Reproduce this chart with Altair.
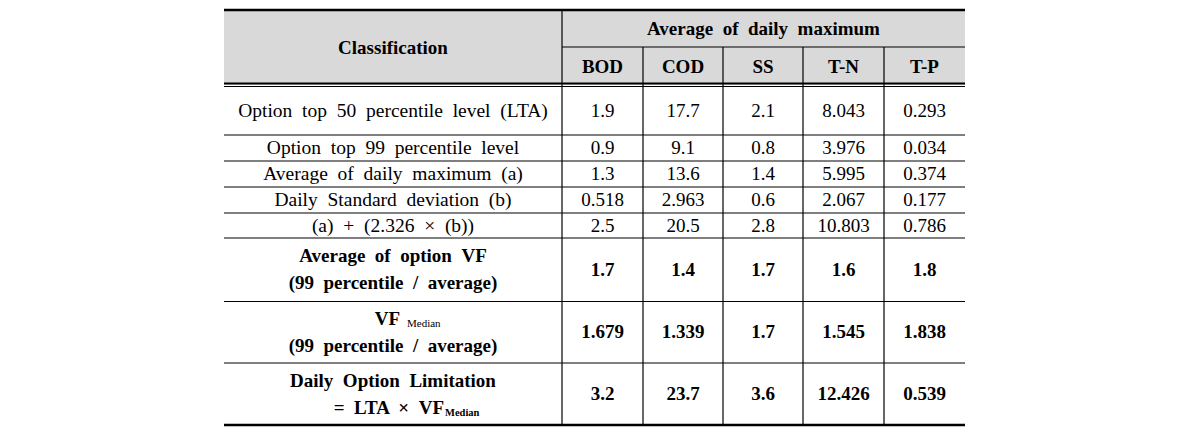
import altair as alt
import pandas as pd

# ---------------- data ----------------
columns = ["BOD", "COD", "SS", "T-N", "T-P"]
group_header = "Average of daily maximum"
corner_header = "Classification"

row_labels = [
    ["Option top 50 percentile level (LTA)"],
    ["Option top 99 percentile level"],
    ["Average of daily maximum (a)"],
    ["Daily Standard deviation (b)"],
    ["(a) + (2.326 × (b))"],
    ["Average of option VF", "(99 percentile / average)"],
    ["VF", "(99 percentile / average)"],
    ["Daily Option Limitation", "= LTA × VF"],
]
row_subscripts = [None, None, None, None, None, None, "Median", "Median"]
row_bold = [False, False, False, False, False, True, True, True]

bod = ["1.9", "0.9", "1.3", "0.518", "2.5", "1.7", "1.679", "3.2"]
cod = ["17.7", "9.1", "13.6", "2.963", "20.5", "1.4", "1.339", "23.7"]
ss = ["2.1", "0.8", "1.4", "0.6", "2.8", "1.7", "1.7", "3.6"]
tn = ["8.043", "3.976", "5.995", "2.067", "10.803", "1.6", "1.545", "12.426"]
tp = ["0.293", "0.034", "0.374", "0.177", "0.786", "1.8", "1.838", "0.539"]
values = [bod, cod, ss, tn, tp]

# ---------------- layout (pixel positions) ----------------
W, H = 1174, 421
col_edges = [224, 562, 643, 723, 803, 884, 965]
head_top, head_mid, head_bot = 9, 46, 84
row_edges = [86, 134, 160, 186, 212, 237, 300.5, 362, 424]
FONT = "Liberation Serif"
FS = 19
FS_LABEL = 19.5
GRAY = "#d9d9d9"


def widen(s):
    # the reference uses wide, justified word spacing
    return s.replace(" ", " \u00a0")


xs = alt.Scale(domain=[8, 8 + W], range=[0, W])
ys = alt.Scale(domain=[8, 8 + H], reverse=True)

# header background
bg = pd.DataFrame([{"x": col_edges[0], "x2": col_edges[-1], "y": head_top, "y2": head_bot}])

# horizontal rules
hl = [
    {"x": col_edges[0], "x2": col_edges[-1], "y": head_top, "w": 2.5},
    {"x": col_edges[1], "x2": col_edges[-1], "y": head_mid, "w": 1.2},
    {"x": col_edges[0], "x2": col_edges[-1], "y": head_bot - 1.5, "w": 1.8},
    {"x": col_edges[0], "x2": col_edges[-1], "y": head_bot + 1.5, "w": 1.2},
]
for ry in row_edges[1:-1]:
    hl.append({"x": col_edges[0], "x2": col_edges[-1], "y": ry, "w": 1.2})
hl.append({"x": col_edges[0], "x2": col_edges[-1], "y": row_edges[-1], "w": 2.5})
hl = pd.DataFrame(hl)

# vertical rules
vl = [{"x": col_edges[1], "y": head_top, "y2": row_edges[-1]}]
for cx in col_edges[2:-1]:
    vl.append({"x": cx, "y": head_mid, "y2": row_edges[-1]})
vl = pd.DataFrame(vl)

# texts
normal_lbl, normal_val, bold = [], [], []
bold.append({"x": (col_edges[0] + col_edges[1]) / 2, "y": (head_top + head_bot) / 2, "t": corner_header})
bold.append({"x": (col_edges[1] + col_edges[-1]) / 2, "y": (head_top + head_mid) / 2, "t": widen(group_header)})
for i, c in enumerate(columns):
    bold.append({"x": (col_edges[i + 1] + col_edges[i + 2]) / 2, "y": (head_mid + head_bot) / 2 + 0.5, "t": c})

label_cx = (col_edges[0] + col_edges[1]) / 2
for r, lines in enumerate(row_labels):
    top, bot = row_edges[r], row_edges[r + 1]
    cy = (top + bot) / 2
    if len(lines) == 1:
        target = bold if row_bold[r] else normal_lbl
        target.append({"x": label_cx, "y": cy, "t": widen(lines[0])})
    else:
        offs = [-13.5, 13.5]
        for k, ln in enumerate(lines):
            if (k == 0 and r == 6) or (k == 1 and r == 7):
                continue
            bold.append({"x": label_cx, "y": cy + offs[k], "t": widen(ln)})
    for ci, col in enumerate(values):
        target = bold if row_bold[r] else normal_val
        target.append({"x": (col_edges[ci + 1] + col_edges[ci + 2]) / 2, "y": cy, "t": col[r]})

# subscripted label lines (right-aligned main text + left-aligned subscript)
r6c = (row_edges[6] + row_edges[7]) / 2
r7c = (row_edges[7] + row_edges[8]) / 2
main_sub = pd.DataFrame([
    {"x": 400, "y": r6c - 13.5, "t": row_labels[6][0]},
    {"x": 444, "y": r7c + 13.5, "t": widen(row_labels[7][1])},
])
sub_df = pd.DataFrame([
    {"x": 407, "y": r6c - 8, "t": row_subscripts[6], "w": "normal"},
    {"x": 445, "y": r7c + 18.5, "t": row_subscripts[7], "w": "bold"},
])

base_x = alt.X("x:Q", scale=xs, axis=None)
base_y = alt.Y("y:Q", scale=ys, axis=None)

bg_layer = alt.Chart(bg).mark_rect(color=GRAY).encode(
    x=base_x, x2="x2:Q", y=base_y, y2="y2:Q")
hl_layer = alt.Chart(hl).mark_rule(color="black").encode(
    x=base_x, x2="x2:Q", y=base_y, strokeWidth=alt.StrokeWidth("w:Q", scale=None))
vl_layer = alt.Chart(vl).mark_rule(color="black", strokeWidth=1.2).encode(
    x=base_x, y=base_y, y2="y2:Q")

txt_lbl = alt.Chart(pd.DataFrame(normal_lbl)).mark_text(
    font=FONT, fontSize=FS_LABEL, color="black", align="center", baseline="middle").encode(
    x=base_x, y=base_y, text="t:N")
txt_val = alt.Chart(pd.DataFrame(normal_val)).mark_text(
    font=FONT, fontSize=FS, color="black", align="center", baseline="middle").encode(
    x=base_x, y=base_y, text="t:N")
txt_bold = alt.Chart(pd.DataFrame(bold)).mark_text(
    font=FONT, fontSize=FS, fontWeight="bold", color="black", align="center", baseline="middle").encode(
    x=base_x, y=base_y, text="t:N")
txt_main_sub = alt.Chart(main_sub).mark_text(
    font=FONT, fontSize=FS, fontWeight="bold", color="black", align="right", baseline="middle").encode(
    x=base_x, y=base_y, text="t:N")
txt_sub_n = alt.Chart(sub_df[sub_df.w == "normal"]).mark_text(
    font=FONT, fontSize=11, color="black", align="left", baseline="middle").encode(
    x=base_x, y=base_y, text="t:N")
txt_sub_b = alt.Chart(sub_df[sub_df.w == "bold"]).mark_text(
    font=FONT, fontSize=10.5, fontWeight="bold", color="black", align="left", baseline="middle").encode(
    x=base_x, y=base_y, text="t:N")

chart = alt.layer(
    bg_layer, hl_layer, vl_layer, txt_lbl, txt_val, txt_bold, txt_main_sub, txt_sub_n, txt_sub_b
).properties(width=W, height=H, padding=0).configure(
    background="white", view=alt.ViewConfig(stroke=None))

chart.save("out.html", embed_options={"renderer": "svg", "actions": False})
